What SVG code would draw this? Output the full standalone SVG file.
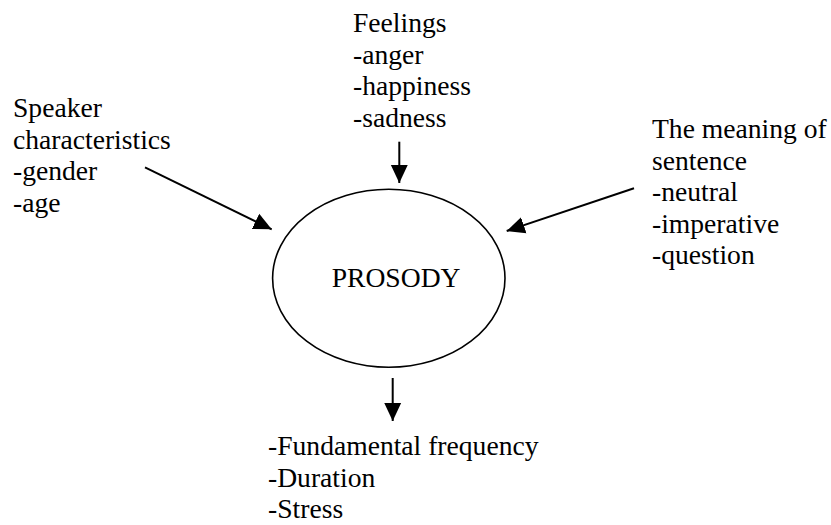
<svg xmlns="http://www.w3.org/2000/svg" width="831" height="525" viewBox="0 0 831 525">
<defs>
<style>
text{font-family:"Liberation Serif","Times New Roman",serif;font-size:27.6px;fill:#000}
.c{stroke:#000;stroke-width:2;fill:none}
</style>
<marker id="ah" markerUnits="userSpaceOnUse" markerWidth="18" markerHeight="18" viewBox="0 0 16 16" refX="16" refY="8" orient="auto">
<path d="M0,0.5 L16,8 L0,15.5 Z" fill="#000"/>
</marker>
</defs>
<rect width="831" height="525" fill="#fff"/>
<g id="connectors">
<line class="c" x1="145" y1="167.3" x2="271.7" y2="229.3" marker-end="url(#ah)"/>
<line class="c" x1="399.3" y1="141.7" x2="399.3" y2="183" marker-end="url(#ah)"/>
<line class="c" x1="634" y1="188.3" x2="506.7" y2="231" marker-end="url(#ah)"/>
<line class="c" x1="392.7" y1="378" x2="392.7" y2="421" marker-end="url(#ah)"/>
</g>
<g id="prosody">
<ellipse cx="388.8" cy="278.3" rx="116.2" ry="89" fill="none" stroke="#000" stroke-width="1.6"/>
<text x="331.7" y="286.7">PROSODY</text>
</g>
<g id="feelings">
<text x="353" y="32">Feelings</text>
<text x="353" y="63.6">-anger</text>
<text x="353" y="95.2">-happiness</text>
<text x="353" y="126.8">-sadness</text>
</g>
<g id="speaker">
<text x="13" y="117">Speaker</text>
<text x="13" y="148.6">characteristics</text>
<text x="13" y="180.2">-gender</text>
<text x="13" y="211.8">-age</text>
</g>
<g id="meaning">
<text x="652" y="138">The meaning of</text>
<text x="652" y="169.6">sentence</text>
<text x="652" y="201.2">-neutral</text>
<text x="652" y="232.8">-imperative</text>
<text x="652" y="264.4">-question</text>
</g>
<g id="output">
<text x="268" y="455">-Fundamental frequency</text>
<text x="268" y="486.6">-Duration</text>
<text x="268" y="518.2">-Stress</text>
</g>
</svg>
